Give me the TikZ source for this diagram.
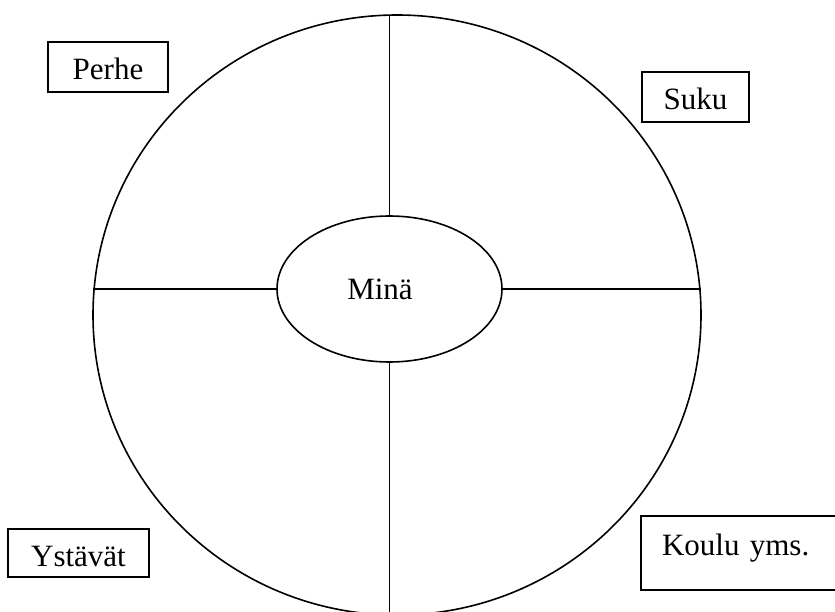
\documentclass[tikz,border=0pt]{standalone}
\usepackage{fontspec}
\setmainfont{Liberation Serif}
\usetikzlibrary{shapes.geometric}
\begin{document}
\begin{tikzpicture}[x=1pt,y=-1pt,line width=1.6pt,
  every node/.style={font=\fontsize{31}{36}\selectfont},
  labelbox/.style={draw,rectangle,inner sep=0pt,outer sep=0pt,text height=26pt,text depth=0pt},
  lane/.style={line width=1.6pt}]
\useasboundingbox (0,0) rectangle (835,612);
\node[draw,ellipse,inner sep=0pt,outer sep=0pt,minimum width=608pt,minimum height=600pt] (outer) at (397,315) {};
\node[draw,ellipse,inner sep=0pt,outer sep=0pt,minimum width=225pt,minimum height=146pt] (mina) at (389.5,289) {Min\"a\hspace*{19pt}};
\draw[lane] (mina.north) -- (mina.north |- outer.north);
\draw[lane] (mina.south) -- (mina.south |- outer.south);
\draw[lane] (mina.west) -- (outer.west |- mina.west);
\draw[lane] (mina.east) -- (outer.east |- mina.east);
\node[labelbox,minimum width=120pt,minimum height=50pt] (perhe) at (108,67) {Perhe};
\node[labelbox,minimum width=107pt,minimum height=50pt] (suku) at (695.5,97) {Suku};
\node[labelbox,minimum width=141pt,minimum height=48pt] (ystavat) at (78.5,553) {Yst\"av\"at};
\node[labelbox,anchor=north west,minimum height=74pt,text depth=22pt,text width=170pt,inner xsep=21pt,align=left] (koulu) at (641,516) {Koulu yms.};
\end{tikzpicture}
\end{document}
